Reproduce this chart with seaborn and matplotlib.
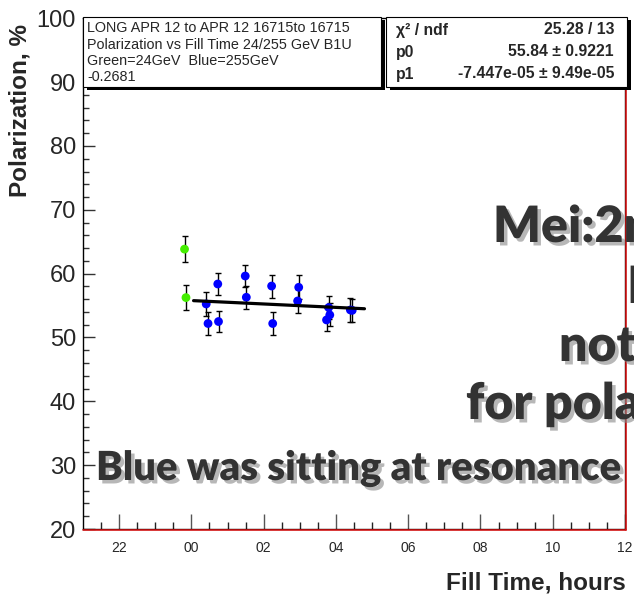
import matplotlib
matplotlib.use("Agg")
import numpy as np
import pandas as pd
import seaborn as sns
import matplotlib.pyplot as plt
from matplotlib.patches import Rectangle
from matplotlib.lines import Line2D
import matplotlib.patheffects as pe

# Fill 16715 polarization measurements, time in hours since midnight of the previous day
green_time = [23.81, 23.85]
green_pol = [63.84, 56.25]
green_err = [2.0, 2.0]

blue_time = [24.41, 24.46, 24.73, 24.75, 25.49, 25.52, 26.22, 26.25,
             26.97, 26.94, 27.80, 27.83, 27.74, 28.40, 28.45]
blue_pol = [55.25, 52.19, 58.38, 52.50, 59.63, 56.30, 58.06, 52.19,
            57.86, 55.72, 54.69, 53.53, 52.75, 54.31, 54.25]
blue_err = [1.95, 1.77, 1.77, 1.70, 1.72, 1.77, 1.80, 1.75,
            1.90, 1.88, 1.80, 1.80, 1.80, 1.85, 1.85]

# straight-line fit to the 255 GeV points (slope in %/hour)
fit_p0 = 55.84
fit_slope = -0.2681
fit_t0 = 23.80
fit_span = [24.06, 28.79]

x_ticks = [22, 24, 26, 28, 30, 32, 34, 36]
x_tick_labels = ["22", "00", "02", "04", "06", "08", "10", "12"]
y_ticks = [20, 30, 40, 50, 60, 70, 80, 90, 100]

info_lines = ["LONG APR 12 to APR 12 16715to 16715",
              "Polarization vs Fill Time 24/255 GeV B1U",
              "Green=24GeV  Blue=255GeV",
              "-0.2681"]
stat_names = ["\u03c7\u00b2 / ndf", "p0", "p1"]
stat_values = ["25.28 / 13", "55.84 \u00b1 0.9221", "-7.447e-05 \u00b1 9.49e-05"]

note_lines = ["Mei:2nd", "but", "not", "for polarization"]
note_bottom = "Blue was sitting at resonance"

sns.set_style("white")
plt.rcParams["font.family"] = ["Liberation Sans", "DejaVu Sans"]

W, H = 634, 598
fig = plt.figure(figsize=(W / 100, H / 100), dpi=100)


def fx(px):
    return px / W


def fy(py):
    return 1 - py / H


x0, x1, y0, y1 = 83, 625, 18.3, 529
ax = fig.add_axes([fx(x0), fy(y1), (x1 - x0) / W, (y1 - y0) / H])

green = pd.DataFrame({"t": green_time, "p": green_pol, "e": green_err})
blue = pd.DataFrame({"t": blue_time, "p": blue_pol, "e": blue_err})

for df in (green, blue):
    ax.errorbar(df["t"], df["p"], yerr=df["e"], fmt="none", ecolor="black",
                elinewidth=1.0, capsize=2.5, capthick=1.0, zorder=2)

sns.scatterplot(data=green, x="t", y="p", color="#44ee00", s=40,
                edgecolor="none", ax=ax, zorder=3, legend=False)
sns.scatterplot(data=blue, x="t", y="p", color="#0000ff", s=40,
                edgecolor="none", ax=ax, zorder=3, legend=False)

fit_x = np.array(fit_span)
fit = pd.DataFrame({"t": fit_x, "p": fit_p0 + fit_slope * (fit_x - fit_t0)})
sns.lineplot(data=fit, x="t", y="p", color="black", lw=2.3, ax=ax, zorder=4)

ax.set_xlim(21, 36)
ax.set_ylim(20, 100)
ax.set_xticks(x_ticks)
ax.set_xticklabels(x_tick_labels)
ax.set_xticks(np.arange(21.5, 36, 0.5), minor=True)
ax.set_yticks(y_ticks)
ax.set_yticks(np.arange(20, 100, 2), minor=True)
ax.set_xlabel("")
ax.set_ylabel("")

ax.tick_params(axis="y", which="major", direction="in", length=8.4, width=1.0,
               color="#333333", labelsize=17, pad=5, left=True)
ax.tick_params(axis="y", which="minor", direction="in", length=4.3, width=1.0,
               color="#333333", left=True)
ax.tick_params(axis="x", which="major", direction="in", length=10.8, width=1.0,
               color="#555555", labelsize=10, pad=9, bottom=True)
ax.tick_params(axis="x", which="minor", direction="in", length=5.0, width=1.0,
               color="#222222", bottom=True)

for side in ("left", "bottom", "right", "top"):
    ax.spines[side].set_color("black")
    ax.spines[side].set_linewidth(1.0)

# red frame edges on the right and bottom
fig.add_artist(Line2D([fx(626.3)] * 2, [fy(y0), fy(530.2)], color="#dd1111", lw=1.1))
fig.add_artist(Line2D([fx(x0), fx(626.3)], [fy(530.2)] * 2, color="#dd1111", lw=1.1))

fig.text(fx(20), fy(24), "Polarization, %", rotation=90, ha="center", va="top",
         fontsize=17.5, fontweight="bold")
fig.text(fx(626), fy(583), "Fill Time, hours", ha="right", va="center",
         fontsize=17.5, fontweight="bold")


def box(left, top, right, bottom, dx, dy):
    fig.add_artist(Rectangle((fx(left + dx), fy(bottom + dy)),
                             (right - left) / W, (bottom - top) / H,
                             transform=fig.transFigure, facecolor="black",
                             edgecolor="none", zorder=5))
    fig.add_artist(Rectangle((fx(left), fy(bottom)),
                             (right - left) / W, (bottom - top) / H,
                             transform=fig.transFigure, facecolor="white",
                             edgecolor="black", lw=0.8, zorder=6))


box(83, 17, 381, 87, 4, 3)
box(386, 17, 627, 87, 4, 3)

for i, line in enumerate(info_lines):
    fig.text(fx(87), fy(28.5 + 16.2 * i), line, ha="left", va="center",
             fontsize=10.4, zorder=7)

for i, (name, val) in enumerate(zip(stat_names, stat_values)):
    yy = fy(30 + 22 * i)
    fig.text(fx(396), yy, name, ha="left", va="center", fontsize=11.3,
             fontweight="bold", zorder=7)
    fig.text(fx(614), yy, val, ha="right", va="center", fontsize=11.3,
             fontweight="bold", zorder=7)

shadow = [pe.withSimplePatchShadow(offset=(2.5, -2.5), shadow_rgbFace="#888888",
                                   alpha=0.6)]
note_pos = [(493, 242), (628, 303), (559, 361), (466, 419)]
for text, (px, py) in zip(note_lines, note_pos):
    fig.text(fx(px), fy(py), text, ha="left", va="baseline", fontsize=36,
             fontweight="heavy", family=["Lato", "DejaVu Sans"], color="#333333",
             path_effects=shadow, zorder=8)
fig.text(fx(96), fy(480), note_bottom, ha="left", va="baseline", fontsize=28.8,
         fontweight="heavy", family=["Lato", "DejaVu Sans"], color="#333333",
         path_effects=shadow, zorder=8)

fig.savefig("out.png", dpi=100)
